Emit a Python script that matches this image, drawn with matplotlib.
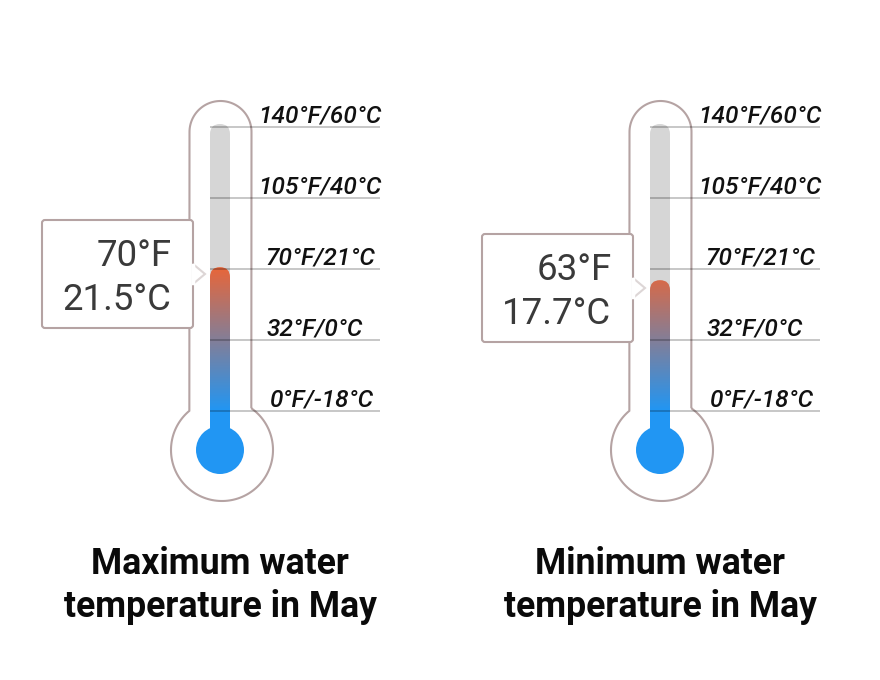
#!/usr/bin/env python3
"""Two thermometers showing May water temperature (max and min)."""
import matplotlib
matplotlib.use("Agg")
import matplotlib.pyplot as plt
import numpy as np
from matplotlib.colors import LinearSegmentedColormap
from matplotlib.patches import Circle, FancyBboxPatch, PathPatch, Polygon
from matplotlib.path import Path

plt.rcParams["font.family"] = ["Roboto", "DejaVu Sans"]

# scale of the thermometer: equal spacing between unequal temperature steps
tick_celsius = [-18, 0, 21, 40, 60]
tick_labels = ["0°F/-18°C", "32°F/0°C", "70°F/21°C", "105°F/40°C", "140°F/60°C"]
tick_pixels = [411, 340, 269, 198, 127]
label_centers = [102.5, 94.5, 100, 100, 99.5]

titles = ["Maximum water\ntemperature in May", "Minimum water\ntemperature in May"]
value_celsius = [21.5, 17.7]
value_texts = [("70°F", "21.5°C"), ("63°F", "17.7°C")]
offsets = [0, 440]
box_centers = [274, 288]

OUTLINE = "#B5A3A3"
cmap = LinearSegmentedColormap.from_list("temp", ["#E8663A", "#2196F3"])


def temp_to_y(c):
    return np.interp(c, tick_celsius, tick_pixels)


def rounded_tube(x0, x1, top, bottom, r):
    verts = [(x0, bottom), (x0, top + r), (x0, top), (x0 + r, top), (x1 - r, top),
             (x1, top), (x1, top + r), (x1, bottom), (x0, bottom)]
    codes = [Path.MOVETO, Path.LINETO, Path.CURVE3, Path.CURVE3, Path.LINETO,
             Path.CURVE3, Path.CURVE3, Path.LINETO, Path.CLOSEPOLY]
    return Path(verts, codes)


def outline_path(dx):
    cx, cy, r = 222 + dx, 450, 51
    left, right, top = 189.5 + dx, 251.5 + dx, 101
    tube_r = (right - left) / 2
    mid = (left + right) / 2
    a0 = np.arctan2(411 - cy, left - cx)
    a1 = np.arctan2(408 - cy, right - cx)
    if a0 > 0:
        a0 -= 2 * np.pi
    # bulb goes from the right joint, round the bottom, to the left joint
    angles = np.linspace(a1, a0, 120) if a1 < a0 else np.linspace(a1, a0 + 2 * np.pi, 120)
    bulb = np.column_stack([cx + r * np.cos(angles), cy + r * np.sin(angles)])
    caps = np.linspace(np.pi, 2 * np.pi, 60)
    cap = np.column_stack([mid + tube_r * np.cos(caps), top + tube_r + tube_r * np.sin(caps)])
    pts = np.vstack([bulb, cap, bulb[:1]])
    return Path(pts)


fig = plt.figure(figsize=(8.8, 6.8), dpi=100)
ax = fig.add_axes([0, 0, 1, 1])
ax.set_xlim(0, 880)
ax.set_ylim(680, 0)
ax.axis("off")

for dx, val, (txt_f, txt_c), title, yc in zip(offsets, value_celsius, value_texts, titles, box_centers):
    ax.add_patch(PathPatch(outline_path(dx), fc="white", ec=OUTLINE, lw=1.5, zorder=1))

    # grey track
    ax.add_patch(PathPatch(rounded_tube(210 + dx, 230 + dx, 124, 420, 10),
                           fc="#D6D6D6", ec="none", zorder=2))

    # coloured column, the gradient is fixed to the scale and clipped at the value
    y_val = temp_to_y(val)
    grad = np.linspace(0, 1, 200).reshape(-1, 1)
    im = ax.imshow(grad, cmap=cmap, aspect="auto", zorder=3,
                   extent=(210 + dx, 230 + dx, 411, 267), interpolation="bilinear")
    clip = PathPatch(rounded_tube(210 + dx, 230 + dx, y_val, 411, 10),
                     fc="none", ec="none", transform=ax.transData)
    ax.add_patch(clip)
    im.set_clip_path(clip)
    ax.fill_between([210 + dx, 230 + dx], 410.5, 440, color="#2196F3", lw=0, zorder=3)
    ax.add_patch(Circle((220 + dx, 450), 24, fc="#2196F3", ec="none", zorder=3))

    # ticks
    for c, lab, center in zip(tick_celsius, tick_labels, label_centers):
        y = temp_to_y(c)
        ax.plot([210 + dx, 380 + dx], [y, y], color="black", alpha=0.22, lw=1.4,
                solid_capstyle="butt", zorder=4)
        ax.text(220 + dx + center, y - 4.5, lab, ha="center", va="baseline",
                fontsize=17.6, style="italic", fontweight="medium", color="#111111", zorder=5)

    # value box
    ax.add_patch(FancyBboxPatch((44 + dx, yc - 52), 147, 104,
                                boxstyle="round,pad=2,rounding_size=3", fc="white",
                                ec=OUTLINE, lw=1.5, zorder=6))
    ax.add_patch(Polygon([(193 + dx, yc - 10), (205 + dx, yc), (193 + dx, yc + 10)],
                         closed=False, fc="white", ec="#DDD6D6", lw=1.5, zorder=7))
    ax.plot([193 + dx, 193 + dx], [yc - 9, yc + 9], color="white", lw=2.5, zorder=8)
    ax.text(171.5 + dx, yc - 7.5, txt_f, ha="right", va="baseline", fontsize=26.4,
            color="#3A3A3A", zorder=9)
    ax.text(171.5 + dx, yc + 36, txt_c, ha="right", va="baseline", fontsize=26.4,
            color="#3A3A3A", zorder=9)

    line1, line2 = title.split("\n")
    ax.text(220 + dx, 574, line1, ha="center", va="baseline", fontsize=25.7,
            fontweight="bold", color="#0A0A0A")
    ax.text(220 + dx, 617, line2, ha="center", va="baseline", fontsize=25.7,
            fontweight="bold", color="#0A0A0A")

ax.set_xlim(0, 880)
ax.set_ylim(680, 0)
fig.savefig("out.png", dpi=100)
